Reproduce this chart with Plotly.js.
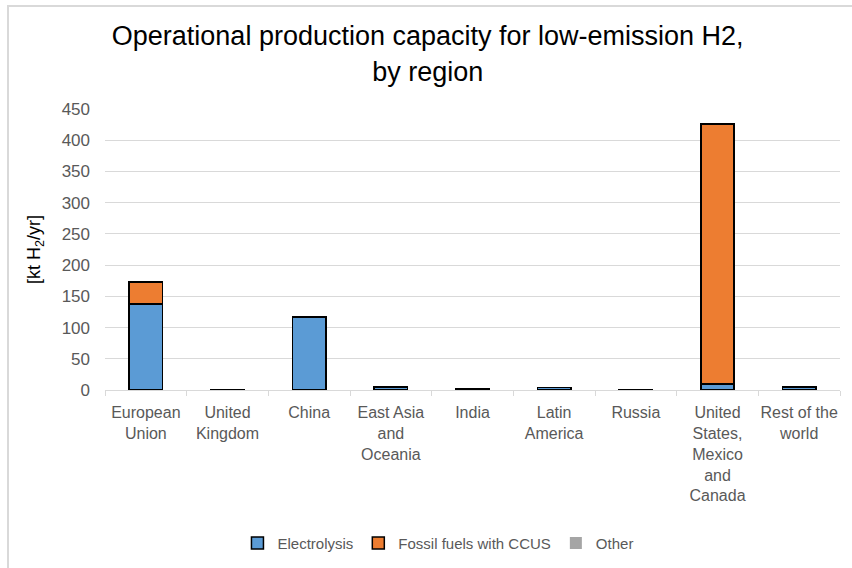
<!DOCTYPE html>
<html>
<head>
<meta charset="utf-8">
<script src="https://cdn.plot.ly/plotly-3.0.1.min.js"></script>
<style>
  html, body { margin: 0; padding: 0; background: #ffffff; overflow: hidden; }
  #wrap { position: relative; width: 852px; height: 568px; }
  #chart { position: absolute; left: 0; top: 0; width: 852px; height: 568px; }
  #frame { position: absolute; left: 7px; top: 5px; width: 900px; height: 700px;
           border: 2px solid #d9d9d9; box-sizing: border-box; pointer-events: none; }
</style>
</head>
<body>
<div id="wrap">
  <div id="chart"></div>
  <div id="frame"></div>
</div>
<script>
// Regions (x-axis categories, with line breaks as shown under each bar)
const regions = [
  "European<br>Union",
  "United<br>Kingdom",
  "China",
  "East Asia<br>and<br>Oceania",
  "India",
  "Latin<br>America",
  "Russia",
  "United<br>States,<br>Mexico<br>and<br>Canada",
  "Rest of the<br>world"
];

// Operational capacity, kt H2 per year
const electrolysis = [138, 1, 117, 5, 2, 4, 1, 10, 5];
const fossilCCUS   = [35, 0, 0, 0, 0, 0, 0, 416, 0];
const other        = [0, 0, 0, 0, 0, 0, 0, 0, 0];

const yTicks = [0, 50, 100, 150, 200, 250, 300, 350, 400, 450];

const FONT = "Liberation Sans, Arial, sans-serif";
const xTickFont = { family: FONT, size: 16, color: "#595959" };
const yTickFont = { family: FONT, size: 17, color: "#595959" };
const legendFont = { family: FONT, size: 15, color: "#595959" };

const traces = [
  {
    type: "bar", name: "Electrolysis", x: regions, y: electrolysis,
    marker: { color: "#5b9bd5", line: { color: "#000000", width: 1.5 } }
  },
  {
    type: "bar", name: "Fossil fuels with CCUS", x: regions, y: fossilCCUS,
    marker: { color: "#ed7d31", line: { color: "#000000", width: 1.5 } }
  },
  {
    type: "bar", name: "Other", x: regions, y: other,
    marker: { color: "#a5a5a5", line: { width: 0 } }
  }
];

const layout = {
  width: 852, height: 568,
  paper_bgcolor: "#ffffff", plot_bgcolor: "#ffffff",
  margin: { l: 105, r: 12, t: 109, b: 178, autoexpand: false },
  barmode: "stack",
  bargap: 0.59,
  title: {
    text: "Operational production capacity for low-emission H2,<br>by region",
    font: { family: FONT, size: 27, color: "#000000" },
    xref: "container", x: 0.502, xanchor: "center",
    yref: "container", y: 0.92, yanchor: "middle"
  },
  xaxis: {
    type: "category",
    tickfont: xTickFont,
    tickangle: 0,
    automargin: false,
    showline: true, linecolor: "#d9d9d9", linewidth: 1,
    ticks: "outside", tickson: "boundaries", ticklen: 5, tickcolor: "#d9d9d9",
    ticklabelstandoff: 8,
    showgrid: false
  },
  yaxis: {
    range: [0, 450],
    automargin: false,
    tickmode: "array", tickvals: yTicks,
    tickfont: yTickFont,
    showgrid: true, gridcolor: "#d9d9d9", gridwidth: 1,
    zeroline: false, showline: false,
    ticks: "", ticklabelstandoff: 14,
    title: {
      text: "[kt H<sub>2</sub>/yr]",
      font: { family: FONT, size: 18, color: "#000000" },
      standoff: 16
    }
  },
  legend: {
    orientation: "h",
    x: 0.453, xanchor: "center",
    y: -0.545, yanchor: "middle",
    font: legendFont,
    itemwidth: 30,
    traceorder: "normal"
  },
  showlegend: true
};

Plotly.newPlot("chart", traces, layout, { displayModeBar: false, staticPlot: true });
</script>
</body>
</html>
